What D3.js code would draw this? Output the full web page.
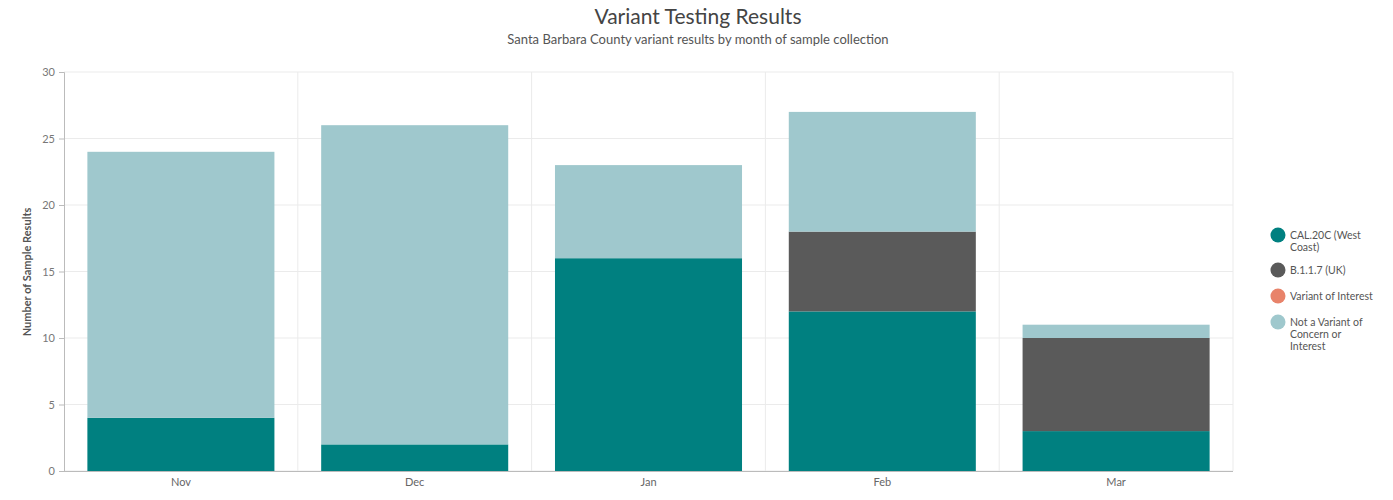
<!DOCTYPE html>
<html><head><meta charset="utf-8">
<script src="https://cdn.jsdelivr.net/npm/d3@7"></script>
<style>body{margin:0;background:#fff;font-family:Lato,"Open Sans",sans-serif}</style>
</head><body><svg id="c" width="1393" height="500"></svg>
<script>
const months = ["Nov","Dec","Jan","Feb","Mar"];
const seriesNames = ["CAL.20C (West Coast)","B.1.1.7 (UK)","Variant of Interest","Not a Variant of Concern or Interest"];
const cal20c = [4,2,16,12,3];
const uk = [0,0,0,6,7];
const voi = [0,0,0,0,0];
const notVariant = [20,24,7,9,1];
const yTicks = [0,5,10,15,20,25,30];
const colors = ["#008080","#5a5a5a","#e8836a","#9fc8cd"];
const legendLines = [["CAL.20C (West","Coast)"],["B.1.1.7 (UK)"],["Variant of Interest"],["Not a Variant of","Concern or","Interest"]];

const svg = d3.select("#c");
const L=64,R=1233,T=72,B=471;
const x = d3.scaleBand().domain(months).range([L,R]).paddingInner(0.2).paddingOuter(0.1);
const y = d3.scaleLinear().domain([0,30]).range([B,T]);
const rows = months.map((m,i)=>({m, s0:cal20c[i], s1:uk[i], s2:voi[i], s3:notVariant[i]}));
const stack = d3.stack().keys(["s0","s1","s2","s3"])(rows);

// gridlines
svg.append("g").selectAll("line").data(yTicks).join("line")
 .attr("x1",L).attr("x2",R).attr("y1",d=>y(d)).attr("y2",d=>y(d)).attr("stroke","#ebebeb");
const bounds = months.map((m,i)=>L+i*(R-L)/months.length).concat([R]);
svg.append("g").selectAll("line").data(bounds.slice(1)).join("line")
 .attr("x1",d=>d).attr("x2",d=>d).attr("y1",T).attr("y2",B).attr("stroke","#ebebeb");

stack.forEach((layer,k)=>{
 svg.append("g").selectAll("rect").data(layer).join("rect")
  .attr("x",d=>x(d.data.m)).attr("width",x.bandwidth())
  .attr("y",d=>y(d[1])).attr("height",d=>y(d[0])-y(d[1])).attr("fill",colors[k]);
});

const ya = svg.append("g").attr("transform",`translate(${L},0)`).call(d3.axisLeft(y).tickValues(yTicks).tickSize(5).tickPadding(4));
ya.select(".domain").attr("stroke","#bbb");
ya.selectAll(".tick line").attr("stroke","#bbb");
ya.selectAll("text").attr("fill","#777").attr("font-size",11).attr("font-family","Lato");
const xa = svg.append("g").attr("transform",`translate(0,${B})`).call(d3.axisBottom(x).tickSize(0).tickPadding(7));
xa.select(".domain").attr("stroke","#bbb").attr("d",`M${L},0.5H${R}`);
xa.selectAll("text").attr("fill","#666").attr("font-size",11).attr("font-family","Lato");

svg.append("text").attr("x",698).attr("y",24).attr("text-anchor","middle").attr("font-size",21).attr("fill","#444").text("Variant Testing Results");
svg.append("text").attr("x",698).attr("y",44).attr("text-anchor","middle").attr("font-size",13).attr("fill","#555").text("Santa Barbara County variant results by month of sample collection");
svg.append("text").attr("transform","translate(31,272) rotate(-90)").attr("text-anchor","middle").attr("font-size",11).attr("font-weight","bold").attr("fill","#555").text("Number of Sample Results");

const lg = svg.append("g");
const ly=[235,270,296,322];
legendLines.forEach((lines,i)=>{
 lg.append("circle").attr("cx",1278).attr("cy",ly[i]).attr("r",7.5).attr("fill",colors[i]);
 lines.forEach((t,j)=>lg.append("text").attr("x",1290).attr("y",ly[i]+4+j*12).attr("font-size",10.5).attr("fill","#555").text(t));
});
</script></body></html>
